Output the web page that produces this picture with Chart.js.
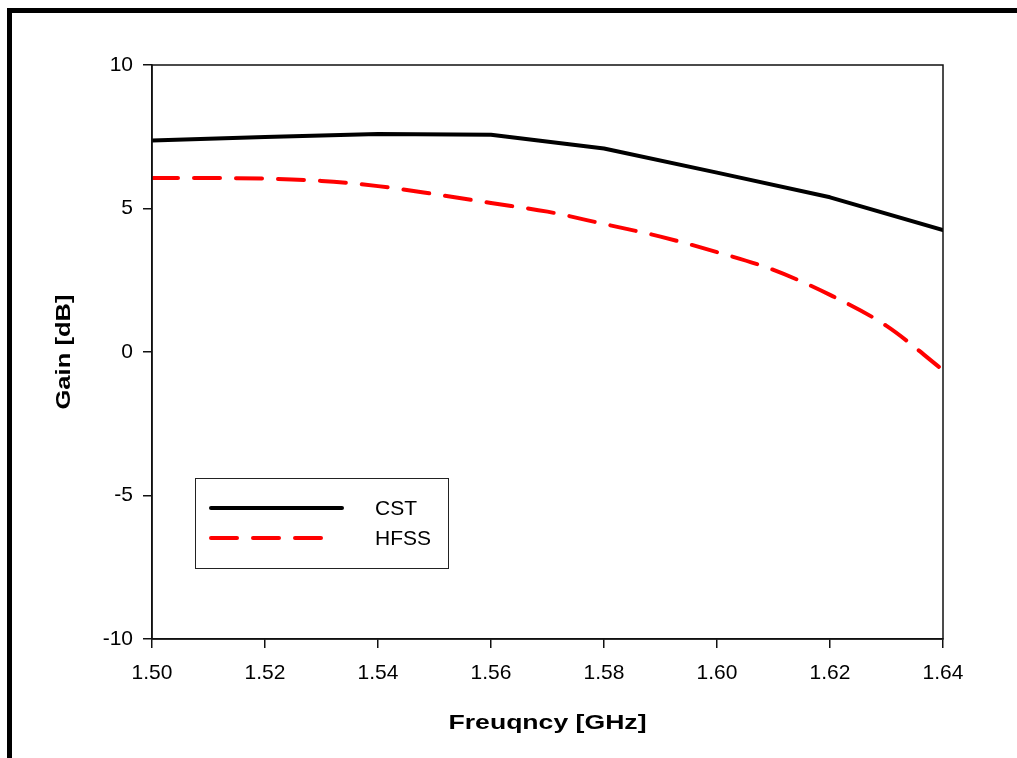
<!DOCTYPE html>
<html>
<head>
<meta charset="utf-8">
<script src="https://cdn.jsdelivr.net/npm/chart.js@4.4.1/dist/chart.umd.min.js"></script>
<style>
  html, body { margin: 0; padding: 0; background: #fff; }
  #wrap { position: relative; width: 1017px; height: 758px; overflow: hidden; }
</style>
</head>
<body>
<div id="wrap"><canvas id="gainChart" width="1017" height="758"></canvas></div>
<script>
// Simulated gain versus frequency
const freqCST  = [1.50, 1.52, 1.54, 1.56, 1.58, 1.60, 1.62, 1.64];
const gainCST  = [7.37, 7.49, 7.60, 7.57, 7.09, 6.25, 5.39, 4.25];

const freqHFSS = [1.50, 1.51, 1.52, 1.53, 1.54, 1.55, 1.56, 1.57, 1.58, 1.59, 1.60, 1.61, 1.62, 1.63, 1.64];
const gainHFSS = [6.06, 6.06, 6.04, 5.96, 5.78, 5.50, 5.19, 4.89, 4.46, 4.02, 3.48, 2.86, 1.99, 0.91, -0.63];

const xTickValues = [1.50, 1.52, 1.54, 1.56, 1.58, 1.60, 1.62, 1.64];
const yTickValues = [-10, -5, 0, 5, 10];

const seriesNames = ['CST', 'HFSS'];
const xTitle = 'Freuqncy [GHz]';
const yTitle = 'Gain [dB]';

const FONT = 'Liberation Sans, Arial, sans-serif';
const HFSS_DASH = [26, 16];

const toPoints = (xs, ys) => xs.map((x, i) => ({ x: x, y: ys[i] }));

// Outer frame, plot box, axis titles and the legend panel
const decorations = {
  id: 'decorations',
  beforeDraw(chart) {
    const ctx = chart.ctx;
    ctx.save();
    ctx.fillStyle = '#fff';
    ctx.fillRect(0, 0, chart.width, chart.height);
    ctx.fillStyle = '#000';
    ctx.fillRect(7, 8, 5, chart.height - 8);
    ctx.fillRect(7, 8, chart.width - 7, 5);
    ctx.restore();
  },
  afterDraw(chart) {
    const ctx = chart.ctx;
    const a = chart.chartArea;
    ctx.save();
    // plot box
    ctx.strokeStyle = '#111';
    ctx.lineWidth = 1.5;
    ctx.strokeRect(a.left, a.top, a.right - a.left, a.bottom - a.top);

    // axis titles (bold, slightly widened)
    ctx.fillStyle = '#000';
    ctx.font = 'bold 20px ' + FONT;
    ctx.textAlign = 'center';
    ctx.textBaseline = 'middle';
    ctx.save();
    ctx.translate((a.left + a.right) / 2, 723);
    ctx.scale(1.33, 1);
    ctx.fillText(xTitle, 0, 0);
    ctx.restore();
    ctx.save();
    ctx.translate(64, (a.top + a.bottom) / 2);
    ctx.rotate(-Math.PI / 2);
    ctx.scale(1.28, 1);
    ctx.fillText(yTitle, 0, 0);
    ctx.restore();

    // legend panel
    const bx = 195.5, by = 478.5, bw = 253, bh = 90;
    ctx.fillStyle = '#fff';
    ctx.fillRect(bx, by, bw, bh);
    ctx.strokeStyle = '#222';
    ctx.lineWidth = 1;
    ctx.strokeRect(bx, by, bw, bh);
    const rows = [508, 538];
    chart.data.datasets.forEach((ds, i) => {
      const y = rows[i];
      ctx.beginPath();
      ctx.strokeStyle = ds.borderColor;
      ctx.lineWidth = ds.borderWidth;
      ctx.lineCap = 'round';
      ctx.setLineDash(ds.borderDash || []);
      ctx.moveTo(211, y);
      ctx.lineTo(i === 0 ? 342 : 330, y);
      ctx.stroke();
      ctx.setLineDash([]);
      ctx.fillStyle = '#000';
      ctx.font = '21px ' + FONT;
      ctx.textAlign = 'left';
      ctx.textBaseline = 'middle';
      ctx.fillText(ds.label, 375, y + 1);
    });
    ctx.restore();
  }
};

new Chart(document.getElementById('gainChart'), {
  type: 'line',
  data: {
    datasets: [
      {
        label: seriesNames[0],
        data: toPoints(freqCST, gainCST),
        borderColor: '#000000',
        borderWidth: 4,
        pointRadius: 0,
        tension: 0,
        borderJoinStyle: 'round',
        borderCapStyle: 'round'
      },
      {
        label: seriesNames[1],
        data: toPoints(freqHFSS, gainHFSS),
        borderColor: '#ff0000',
        borderWidth: 4,
        borderDash: HFSS_DASH,
        borderCapStyle: 'round',
        pointRadius: 0,
        cubicInterpolationMode: 'monotone'
      }
    ]
  },
  options: {
    responsive: false,
    animation: false,
    devicePixelRatio: 1,
    layout: { padding: { left: 0, top: 65, right: 74, bottom: 0 } },
    plugins: { legend: { display: false }, tooltip: { enabled: false }, title: { display: false } },
    scales: {
      x: {
        type: 'linear',
        position: 'bottom',
        min: 1.50,
        max: 1.64,
        afterBuildTicks: s => { s.ticks = xTickValues.map(v => ({ value: v })); },
        afterFit: s => { s.height = 119; },
        grid: { drawOnChartArea: false, drawTicks: true, tickLength: 9, color: '#111', lineWidth: 1.5 },
        border: { display: true, color: '#111', width: 1.5 },
        ticks: {
          color: '#000',
          font: { family: FONT, size: 21 },
          padding: 13,
          maxRotation: 0,
          autoSkip: false,
          callback: v => Number(v).toFixed(2)
        }
      },
      y: {
        type: 'linear',
        position: 'left',
        min: -10,
        max: 10,
        afterBuildTicks: s => { s.ticks = yTickValues.map(v => ({ value: v })); },
        afterFit: s => { s.width = 152; },
        grid: { drawOnChartArea: false, drawTicks: true, tickLength: 9, color: '#111', lineWidth: 1.5 },
        border: { display: true, color: '#111', width: 1.5 },
        ticks: {
          color: '#000',
          font: { family: FONT, size: 21 },
          padding: 10,
          autoSkip: false,
          callback: v => String(v)
        }
      }
    }
  },
  plugins: [decorations]
});
</script>
</body>
</html>
